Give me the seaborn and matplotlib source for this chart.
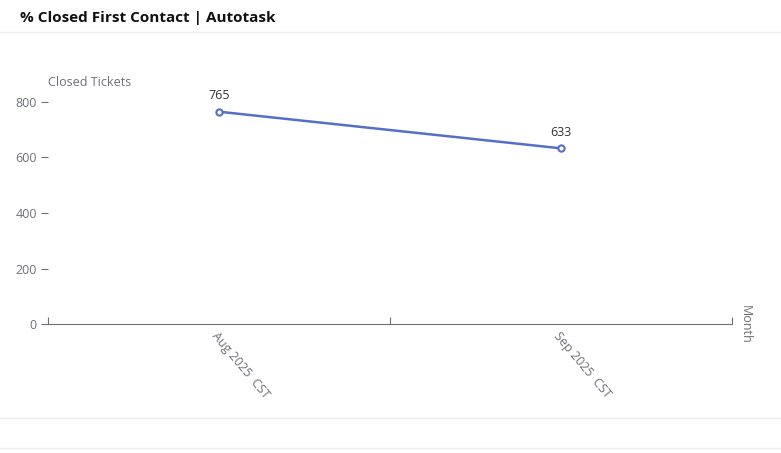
import matplotlib
matplotlib.use("Agg")
import matplotlib.pyplot as plt
import seaborn as sns
import pandas as pd

months = ["Aug 2025  CST", "Sep 2025  CST"]
closed = [765, 633]
yticks = [0, 200, 400, 600, 800]

sns.set_style("white")
plt.rcParams["font.family"] = ["Open Sans", "DejaVu Sans"]

df = pd.DataFrame({"pos": range(len(months)), "closed": closed})

fig = plt.figure(figsize=(7.81, 4.53), dpi=100)
ax = fig.add_axes([48 / 781, 1 - 324 / 453, 684 / 781, 222 / 453])
sns.lineplot(data=df, x="pos", y="closed", ax=ax, color="#5470c6", lw=1.8,
             marker="o", markersize=4.5, markerfacecolor="white",
             markeredgecolor="#5470c6", markeredgewidth=1.5)
for x, y in zip(df["pos"], df["closed"]):
    ax.annotate(str(y), (x, y), xytext=(0, 7), textcoords="offset points",
                ha="center", va="bottom", fontsize=9, color="#333333")

ax.set_xlim(-0.5, len(months) - 0.5)
ax.set_ylim(0, 800)
ax.set_yticks(yticks)
ax.set_yticklabels([str(v) for v in yticks], fontsize=9, color="#6e7079")
ax.set_xticks([i - 0.5 for i in range(len(months) + 1)])
ax.set_xticklabels([])
for i, m in enumerate(months):
    ax.text(i, -22, m, rotation=-50, ha="left", va="top", fontsize=9,
            color="#6e7079", rotation_mode="anchor")
ax.tick_params(axis="x", length=5, color="#6e7079", direction="in", bottom=True)
ax.tick_params(axis="y", length=5, color="#6e7079", left=True, pad=3)
for s in ["top", "right", "left"]:
    ax.spines[s].set_visible(False)
ax.spines["bottom"].set_color("#6e7079")
ax.set_xlabel("")
ax.set_ylabel("")
ax.text(0, 1.06, "Closed Tickets", transform=ax.transAxes, fontsize=9,
        color="#6e7079", ha="left", va="bottom")
ax.text(1.01, 0.0, "Month", transform=ax.transAxes, fontsize=9,
        color="#6e7079", rotation=-90, ha="left", va="center")

fig.text(20 / 781, 1 - 18 / 453, "% Closed First Contact | Autotask",
         fontsize=11, fontweight="bold", color="#111111", va="center")
for yy in [32, 418, 448]:
    fig.add_artist(plt.Line2D([0, 1], [1 - yy / 453] * 2, color="#eeeeee", lw=1))

fig.savefig("out.png", dpi=100)
